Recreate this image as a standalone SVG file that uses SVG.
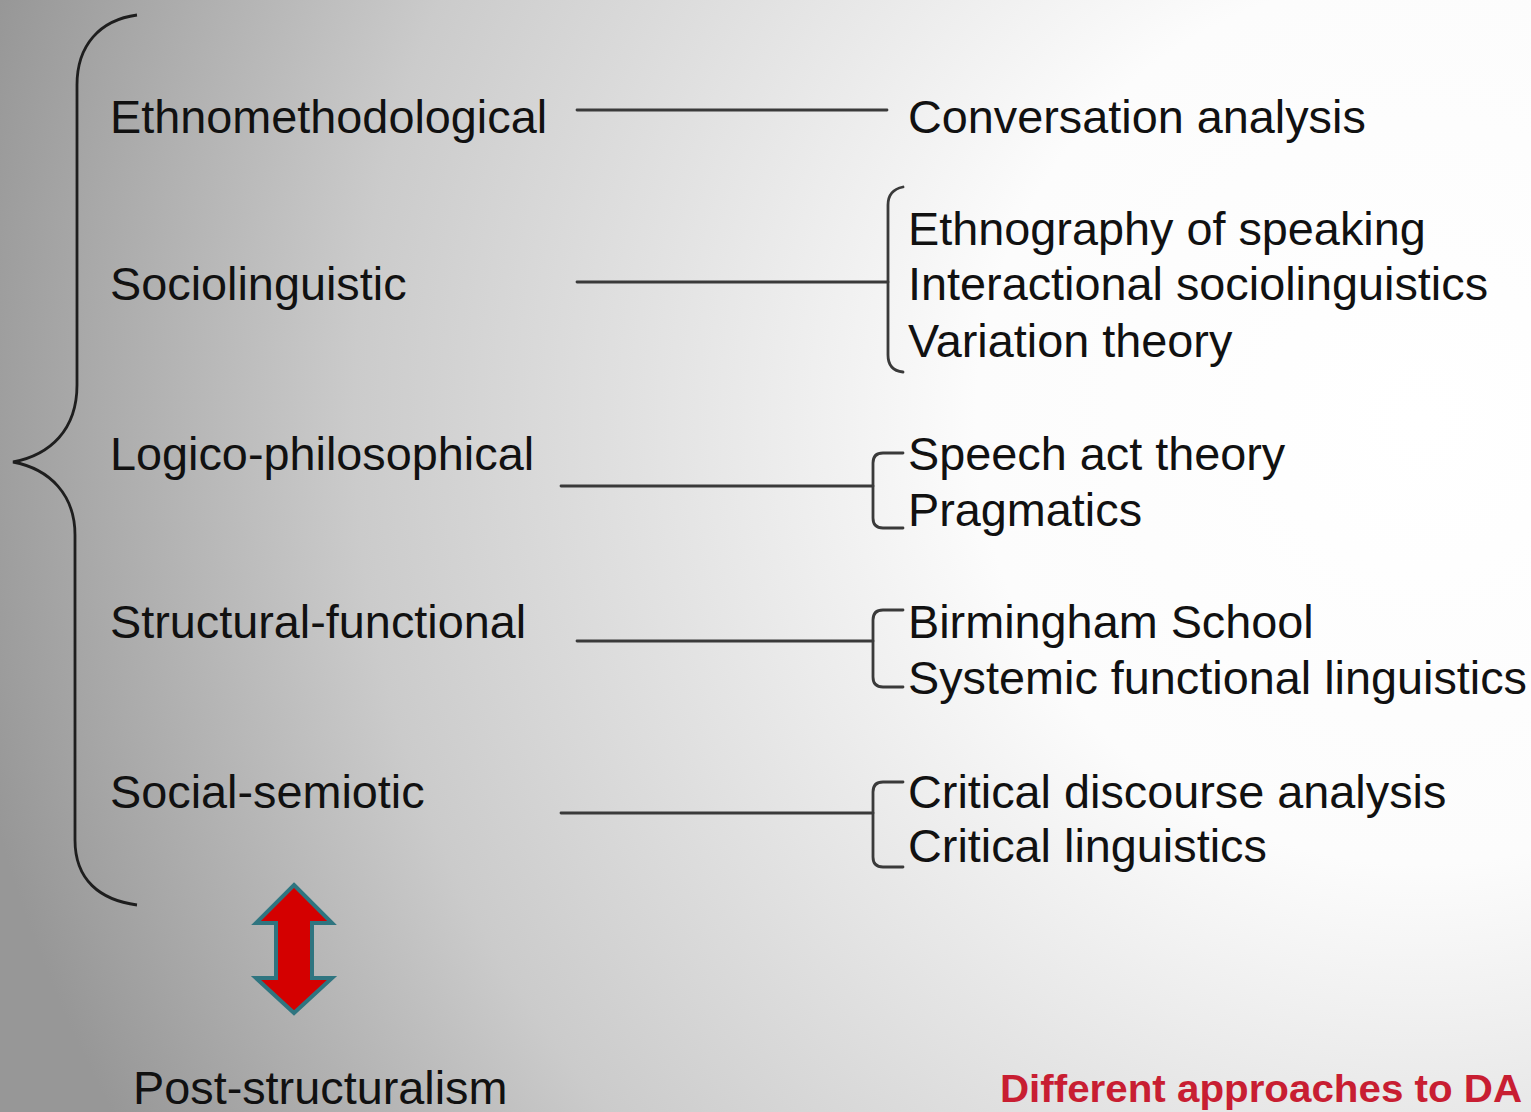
<svg xmlns="http://www.w3.org/2000/svg" width="1531" height="1112" viewBox="0 0 1531 1112">
  <defs>
    <radialGradient id="bg" gradientUnits="userSpaceOnUse" cx="1420" cy="420" r="1480">
      <stop offset="0" stop-color="#ffffff"/>
      <stop offset="0.3" stop-color="#fcfcfc"/>
      <stop offset="0.72" stop-color="#cbcbcb"/>
      <stop offset="1" stop-color="#979797"/>
    </radialGradient>
  </defs>
  <style>
    .lbl { font-family: "Liberation Sans", Arial, sans-serif; font-size: 46.8px; fill: #111; }
    .wire { fill: none; stroke: #3a3a3a; stroke-width: 2.8; stroke-linecap: round; }
    .brace { fill: none; stroke: #1e1e1e; stroke-width: 2.8; }
    .title { font-family: "Liberation Sans", Arial, sans-serif; font-weight: bold; font-size: 39px; fill: #c81e32; }
  </style>

  <rect x="0" y="0" width="1531" height="1112" fill="url(#bg)"/>

  <!-- large brace grouping the five traditions -->
  <path class="brace" d="M137,15 C100,20 77,45 77,85 L77,385 C77,430 50,455 13,462 C50,469 75,495 75,535 L75,840 C75,880 100,900 137,905"/>

  <!-- traditions -->
  <g id="ethnomethodological"><text class="lbl" x="110" y="133">Ethnomethodological</text></g>
  <g id="sociolinguistic"><text class="lbl" x="110" y="300">Sociolinguistic</text></g>
  <g id="logico-philosophical"><text class="lbl" x="110" y="470">Logico-philosophical</text></g>
  <g id="structural-functional"><text class="lbl" x="110" y="638">Structural-functional</text></g>
  <g id="social-semiotic"><text class="lbl" x="110" y="808">Social-semiotic</text></g>

  <!-- approaches -->
  <g id="conversation-analysis"><text class="lbl" x="908" y="133">Conversation analysis</text></g>
  <g id="sociolinguistic-approaches">
    <text class="lbl" x="908" y="245">Ethnography of speaking</text>
    <text class="lbl" x="908" y="300">Interactional sociolinguistics</text>
    <text class="lbl" x="908" y="357">Variation theory</text>
  </g>
  <g id="logico-approaches">
    <text class="lbl" x="908" y="470">Speech act theory</text>
    <text class="lbl" x="908" y="526">Pragmatics</text>
  </g>
  <g id="structural-approaches">
    <text class="lbl" x="908" y="638">Birmingham School</text>
    <text class="lbl" x="908" y="694">Systemic functional linguistics</text>
  </g>
  <g id="semiotic-approaches">
    <text class="lbl" x="908" y="808">Critical discourse analysis</text>
    <text class="lbl" x="908" y="862">Critical linguistics</text>
  </g>

  <!-- connectors -->
  <g id="connectors">
    <line class="wire" x1="577" y1="110" x2="887" y2="110"/>
    <line class="wire" x1="577" y1="282" x2="888" y2="282"/>
    <path class="wire" d="M903,187 C893,189 888,195 888,205 L888,355 C888,365 893,371 903,372"/>
    <line class="wire" x1="561" y1="486" x2="873" y2="486"/>
    <path class="wire" d="M903,453 L883,453 Q873,453 873,463 L873,518 Q873,528 883,528 L903,528"/>
    <line class="wire" x1="577" y1="641" x2="873" y2="641"/>
    <path class="wire" d="M903,610 L883,610 Q873,610 873,620 L873,677 Q873,687 883,687 L903,687"/>
    <line class="wire" x1="561" y1="813" x2="873" y2="813"/>
    <path class="wire" d="M903,782 L883,782 Q873,782 873,792 L873,857 Q873,867 883,867 L903,867"/>
  </g>

  <!-- two-way arrow to post-structuralism -->
  <g id="double-arrow">
    <path d="M294,885 L332,923 L312,923 L312,978 L332,978 L294,1013 L256,978 L276,978 L276,923 L256,923 Z" fill="#d40000" stroke="#2f7580" stroke-width="4" stroke-linejoin="miter"/>
  </g>

  <g id="post-structuralism"><text class="lbl" x="133" y="1104">Post-structuralism</text></g>

  <g id="caption"><text class="title" x="1000" y="1102" textLength="522" lengthAdjust="spacingAndGlyphs">Different approaches to DA</text></g>
</svg>
